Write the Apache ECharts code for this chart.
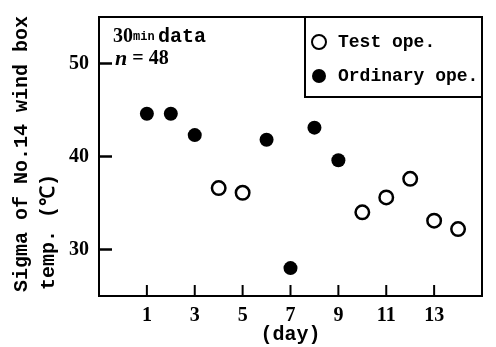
<!DOCTYPE html>
<html>
<head>
<meta charset="utf-8">
<script src="https://cdn.jsdelivr.net/npm/echarts@6/dist/echarts.min.js"></script>
<style>
  html, body { margin: 0; padding: 0; background: #fff; }
  #chart { width: 496px; height: 347px; }
</style>
</head>
<body>
<div id="chart"></div>
<script>
// test operation days and sigma values
const testDays = [4, 5, 10, 11, 12, 13, 14];
const testSigma = [36.6, 36.1, 34.0, 35.6, 37.6, 33.1, 32.2];
// ordinary operation days and sigma values
const ordDays = [1, 2, 3, 6, 7, 8, 9];
const ordSigma = [44.6, 44.6, 42.3, 41.8, 28.0, 43.1, 39.6];
const xTicks = [1, 3, 5, 7, 9, 11, 13];
const yTicks = [30, 40, 50];
const xMin = -1, xMax = 15, yMin = 25, yMax = 55;

const mono = '"Liberation Mono", "DejaVu Sans Mono", monospace';
const serif = '"Liberation Serif", "DejaVu Serif", serif';

const chart = echarts.init(document.getElementById('chart'));

// inward ticks, placed through the axis scales
function tickSeries(data, dx, dy) {
  return {
    type: 'custom',
    silent: true,
    clip: false,
    z: 100,
    data: data,
    renderItem: function (params, api) {
      const p = api.coord([api.value(0), api.value(1)]);
      return {
        type: 'line',
        z2: 100,
        shape: { x1: p[0], y1: p[1], x2: p[0] + dx, y2: p[1] + dy },
        style: { stroke: '#000', lineWidth: 2 }
      };
    }
  };
}

const graphics = [
  {
    id: 'legendBox',
    type: 'rect',
    shape: { x: 305, y: 17, width: 177, height: 80 },
    style: { fill: 'transparent', stroke: '#000', lineWidth: 2 },
    z: 10
  },
  {
    id: 'yname1',
    type: 'text',
    x: 22, y: 292,
    rotation: Math.PI / 2,
    style: {
      text: 'Sigma of No.14 wind box',
      fontFamily: mono, fontWeight: 'bold', fontSize: 20, fill: '#000',
      textAlign: 'left', textVerticalAlign: 'middle'
    }
  },
  {
    id: 'yname2',
    type: 'text',
    x: 49, y: 290,
    rotation: Math.PI / 2,
    style: {
      text: 'temp. (℃)',
      fontFamily: mono, fontWeight: 'bold', fontSize: 20, fill: '#000',
      textAlign: 'left', textVerticalAlign: 'middle'
    }
  },
  {
    id: 'note1',
    type: 'text',
    x: 113, y: 37,
    style: {
      text: '{a|30}{b|min} {c|data}',
      textVerticalAlign: 'middle',
      rich: {
        a: { fontFamily: serif, fontWeight: 'bold', fontSize: 20, color: '#000' },
        b: { fontFamily: mono, fontWeight: 'bold', fontSize: 12, color: '#000' },
        c: { fontFamily: mono, fontWeight: 'bold', fontSize: 20, color: '#000' }
      }
    }
  },
  {
    id: 'note2',
    type: 'text',
    x: 115, y: 59,
    style: {
      text: '{i|n}{a| = 48}',
      textVerticalAlign: 'middle',
      rich: {
        i: { fontFamily: serif, fontStyle: 'italic', fontWeight: 'bold', fontSize: 22, color: '#000' },
        a: { fontFamily: serif, fontWeight: 'bold', fontSize: 20, color: '#000' }
      }
    }
  }
];

const option = {
  backgroundColor: '#fff',
  animation: false,
  grid: {
    left: 99, right: 14, top: 17, bottom: 51,
    show: true,
    borderColor: '#000',
    borderWidth: 2,
    outerBoundsMode: 'none'
  },
  legend: {
    orient: 'vertical',
    left: 311,
    top: 32,
    padding: 0,
    itemWidth: 20,
    itemHeight: 14,
    itemGap: 14,
    data: ['Test ope.', 'Ordinary ope.'],
    textStyle: {
      fontFamily: mono,
      fontWeight: 'bold',
      fontSize: 18,
      color: '#000',
      lineHeight: 20,
      padding: [0, 0, 0, 4]
    }
  },
  xAxis: {
    type: 'value',
    min: xMin,
    max: xMax,
    name: '(day)',
    nameLocation: 'middle',
    nameGap: 29,
    nameMoveOverlap: false,
    nameTextStyle: { fontFamily: mono, fontWeight: 'bold', fontSize: 20, color: '#000' },
    axisLine: { onZero: false, lineStyle: { color: '#000', width: 2 } },
    axisTick: { show: false },
    axisLabel: { margin: 10, fontFamily: serif, fontWeight: 'bold', fontSize: 20, color: '#000', customValues: xTicks },
    splitLine: { show: false }
  },
  yAxis: {
    type: 'value',
    min: yMin,
    max: yMax,
    axisLine: { show: true, onZero: false, lineStyle: { color: '#000', width: 2 } },
    axisTick: { show: false },
    axisLabel: { margin: 10, fontFamily: serif, fontWeight: 'bold', fontSize: 20, color: '#000', customValues: yTicks },
    splitLine: { show: false }
  },
  graphic: graphics,
  series: [
    {
      name: 'Test ope.',
      type: 'scatter',
      symbol: 'circle',
      symbolSize: 13.5,
      itemStyle: { color: '#fff', borderColor: '#000', borderWidth: 2.5, opacity: 1 },
      data: testDays.map((d, i) => [d, testSigma[i]])
    },
    {
      name: 'Ordinary ope.',
      type: 'scatter',
      symbol: 'circle',
      symbolSize: 14,
      itemStyle: { color: '#000', opacity: 1 },
      data: ordDays.map((d, i) => [d, ordSigma[i]])
    },
    tickSeries(xTicks.map(v => [v, yMin]), 0, -11),
    tickSeries(yTicks.map(v => [xMin, v]), 13, 0)
  ]
};

chart.setOption(option);

// y ticks again as graphic lines, positioned with the chart's own scale
const yTickLines = yTicks.map((v, i) => {
  const p = chart.convertToPixel({ gridIndex: 0 }, [xMin, v]);
  return {
    id: 'ytick' + i,
    type: 'line',
    z: 100,
    shape: { x1: p[0], y1: p[1], x2: p[0] + 13, y2: p[1] },
    style: { stroke: '#000', lineWidth: 2 }
  };
});
chart.setOption({ graphic: graphics.concat(yTickLines) });
</script>
</body>
</html>
